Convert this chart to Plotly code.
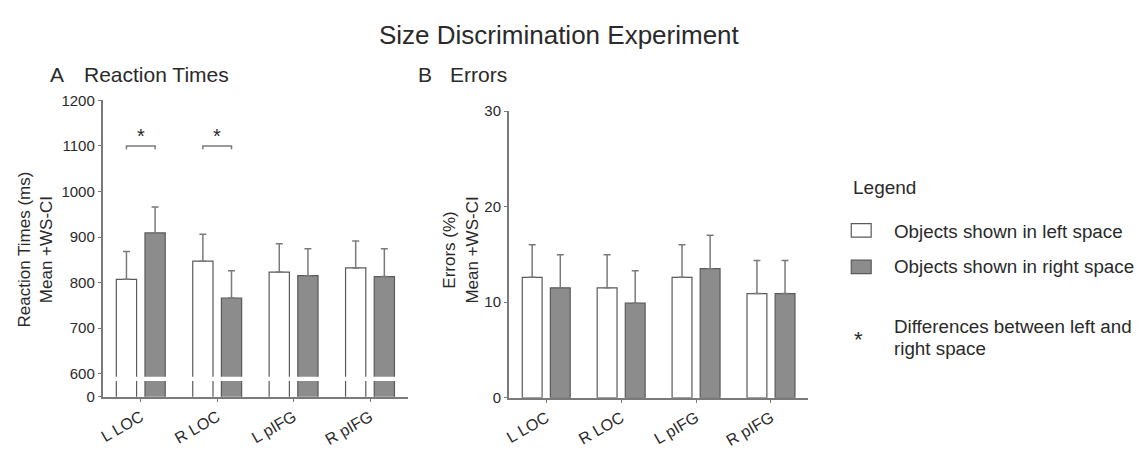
import plotly.graph_objects as go

# ---------------- data ----------------
categories = ["L LOC", "R LOC", "L pIFG", "R pIFG"]

rt_left = [807, 847, 823, 832]        # reaction time, objects in left space (ms)
rt_left_ci = [61, 59, 62, 59]
rt_right = [909, 766, 815, 813]       # reaction time, objects in right space (ms)
rt_right_ci = [57, 60, 59, 61]

err_left = [12.6, 11.5, 12.6, 10.9]   # errors (%), left space
err_left_ci = [3.4, 3.45, 3.4, 3.45]
err_right = [11.5, 9.9, 13.5, 10.9]   # errors (%), right space
err_right_ci = [3.45, 3.4, 3.5, 3.45]

rt_ticks = [600, 700, 800, 900, 1000, 1100, 1200]
rt_axis_zero = 549                    # display position of the "0" after the axis break
err_ticks = [0, 10, 20, 30]

sig_categories = ["L LOC", "R LOC"]   # significant left/right differences
sig_level = 1100

# ---------------- styling ----------------
W, H = 1138, 451
FONT = "Liberation Sans, Arial, sans-serif"
AX = "#7a7a7a"
TXT = "#2a2a2a"
WHITE_FILL = "#ffffff"
GRAY_FILL = "#8c8c8c"
OUTLINE = "#5a5a5a"
BW = 0.265
OFF_L, OFF_R = -0.32, 0.055


def px(x):
    return x / W


def py(y):
    return 1 - y / H


fig = go.Figure()


def add_pair(vals_l, ci_l, vals_r, ci_r, xa, ya):
    for vals, ci, fill, off in ((vals_l, ci_l, WHITE_FILL, OFF_L), (vals_r, ci_r, GRAY_FILL, OFF_R)):
        fig.add_trace(go.Bar(
            x=categories, y=vals, xaxis=xa, yaxis=ya,
            width=BW, offset=off,
            marker=dict(color=fill, line=dict(color=OUTLINE, width=1.2)),
            error_y=dict(type="data", array=ci, arrayminus=[0] * len(ci), symmetric=False,
                         color=AX, thickness=1.5, width=3.5),
            showlegend=False, hoverinfo="skip",
        ))


add_pair(rt_left, rt_left_ci, rt_right, rt_right_ci, "x", "y")
add_pair(err_left, err_left_ci, err_right, err_right_ci, "x2", "y2")

axis_common = dict(showline=True, linecolor=AX, linewidth=1.5, showgrid=False, zeroline=False,
                   ticks="outside", ticklen=3, tickcolor=AX, tickwidth=1.2,
                   tickfont=dict(family=FONT, size=15, color=TXT))
xtick_font = dict(family=FONT, size=16, color=TXT)

fig.update_layout(
    width=W, height=H,
    margin=dict(l=0, r=0, t=0, b=0),
    paper_bgcolor="white", plot_bgcolor="white",
    barmode="overlay",
    font=dict(family=FONT, color=TXT),
    xaxis=dict(domain=[px(98), px(405)], anchor="y", range=[-0.5, 3.5],
               tickangle=-30, **{**axis_common, "tickfont": xtick_font}),
    yaxis=dict(domain=[py(403), py(95)], anchor="x", range=[rt_axis_zero, 1200],
               tickvals=[rt_axis_zero] + rt_ticks,
               ticktext=["0"] + [str(v) for v in rt_ticks], **axis_common),
    xaxis2=dict(domain=[px(506), px(807)], anchor="y2", range=[-0.5, 3.5],
                tickangle=-30, **{**axis_common, "tickfont": xtick_font}),
    yaxis2=dict(domain=[py(404), py(106)], anchor="x2", range=[0, 30],
                tickvals=err_ticks, **axis_common),
)

shapes = []
annots = []

# axis break band on reaction-time panel
shapes.append(dict(type="rect", xref="x", yref="y", x0=-0.46, x1=3.5, y0=584, y1=593,
                   fillcolor="white", line=dict(width=0), layer="above"))

# significance brackets
for cat in sig_categories:
    i = categories.index(cat)
    xl = i + OFF_L + BW / 2
    xr = i + OFF_R + BW / 2
    shapes.append(dict(type="path", xref="x", yref="y",
                       path=f"M {xl} {sig_level - 7} L {xl} {sig_level} L {xr} {sig_level} L {xr} {sig_level - 7}",
                       line=dict(color=AX, width=1.5)))
    annots.append(dict(x=i, y=sig_level + 22, xref="x", yref="y", text="*", showarrow=False,
                       font=dict(size=20, color=TXT), yanchor="middle"))

# titles
annots.append(dict(x=px(557), y=py(27), xref="paper", yref="paper", text="Size Discrimination Experiment",
                   showarrow=False, font=dict(size=26, color=TXT), xanchor="center", yanchor="middle"))
for letter, lx, title, tx in (("A", 43, "Reaction Times", 77), ("B", 413, "Errors", 445)):
    annots.append(dict(x=px(lx), y=py(68), xref="paper", yref="paper", text=letter, showarrow=False,
                       font=dict(size=21, color=TXT), xanchor="left", yanchor="middle"))
    annots.append(dict(x=px(tx), y=py(68), xref="paper", yref="paper", text=title, showarrow=False,
                       font=dict(size=21, color=TXT), xanchor="left", yanchor="middle"))

# y axis titles
annots.append(dict(x=px(31), y=py(250), xref="paper", yref="paper",
                   text="Reaction Times (ms)<br>Mean +WS-CI", textangle=-90, showarrow=False,
                   font=dict(size=17, color=TXT), xanchor="center", yanchor="middle"))
annots.append(dict(x=px(458), y=py(250), xref="paper", yref="paper",
                   text="Errors (%)<br>Mean +WS-CI", textangle=-90, showarrow=False,
                   font=dict(size=17, color=TXT), xanchor="center", yanchor="middle"))

# custom legend
LEG = 18.8
annots.append(dict(x=px(850), y=py(185), xref="paper", yref="paper", text="Legend", showarrow=False,
                   font=dict(size=19, color=TXT), xanchor="left", yanchor="middle"))
for (y0, y1, fill, label, ty) in ((223, 237, WHITE_FILL, "Objects shown in left space", 231),
                                  (261, 275, GRAY_FILL, "Objects shown in right space", 268)):
    shapes.append(dict(type="rect", xref="paper", yref="paper", x0=px(850), x1=px(870),
                       y0=py(y1), y1=py(y0), fillcolor=fill, line=dict(color=OUTLINE, width=1.2)))
    annots.append(dict(x=px(891), y=py(ty), xref="paper", yref="paper", text=label, showarrow=False,
                       font=dict(size=LEG, color=TXT), xanchor="left", yanchor="middle"))
annots.append(dict(x=px(857), y=py(343), xref="paper", yref="paper", text="*", showarrow=False,
                   font=dict(size=22, color=TXT), xanchor="center", yanchor="middle"))
annots.append(dict(x=px(891), y=py(330), xref="paper", yref="paper", text="Differences between left and",
                   showarrow=False, font=dict(size=LEG, color=TXT), xanchor="left", yanchor="middle"))
annots.append(dict(x=px(891), y=py(353), xref="paper", yref="paper", text="right space",
                   showarrow=False, font=dict(size=LEG, color=TXT), xanchor="left", yanchor="middle"))

fig.update_layout(shapes=shapes, annotations=annots)

fig.write_html("out.html", config={"displayModeBar": False},
               post_script="document.body.style.margin='0';document.body.style.overflow='hidden';")
